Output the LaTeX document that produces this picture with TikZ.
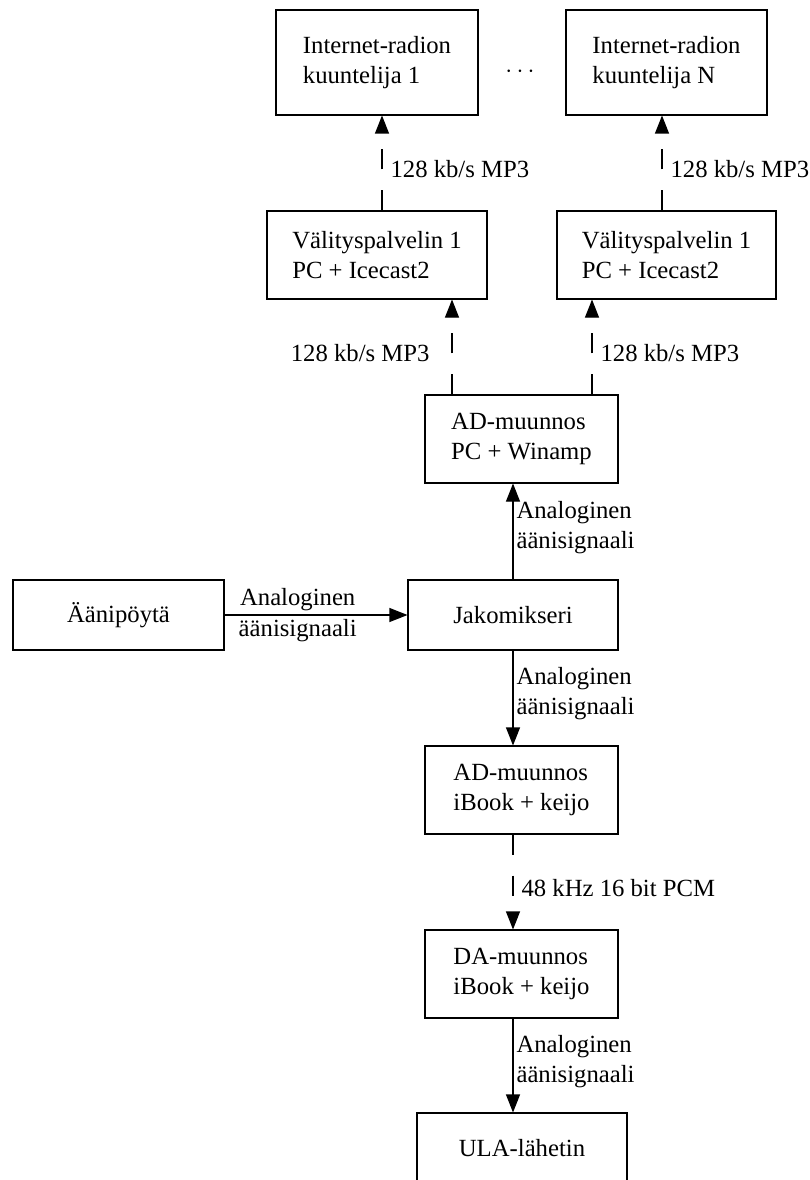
\documentclass[tikz,border=0pt]{standalone}
\usepackage{fontspec}
\setmainfont{Liberation Serif}
\usetikzlibrary{arrows.meta,positioning}

\tikzset{
  box/.style={draw, line width=1.1pt, align=left},
  flow/.style={line width=1.1pt, -{Triangle[length=18pt,width=14pt]}},
  stream/.style={flow, dash pattern=on 20pt off 21pt},
  signal/.style={align=left, inner xsep=3pt, yshift=4pt},
  rate/.style={inner xsep=8pt, yshift=-6pt}
}

\begin{document}
\begin{tikzpicture}[x=1pt, y=-1pt, font=\fontsize{24.7}{30}\selectfont]
  \useasboundingbox (0,0) rectangle (809,1180);

  % listeners
  \node[box, minimum width=202pt, minimum height=105pt] (inet1) at (377,62.5) {Internet-radion\\kuuntelija 1};
  \node[box, minimum width=201pt, minimum height=105pt] (inetN) at (666.5,62.5) {Internet-radion\\kuuntelija N};
  \node (dots) at (520,72) {$\cdots$};

  % relay servers
  \node[box, minimum width=220pt, minimum height=88pt] (relay1) at (377,255) {Välityspalvelin 1\\PC + Icecast2};
  \node[box, minimum width=219pt, minimum height=88pt] (relayN) at (666.5,255) {Välityspalvelin 1\\PC + Icecast2};

  % studio chain
  \node[box, minimum width=193pt, minimum height=88pt] (adpc) at (521.5,439) {AD-muunnos\\PC + Winamp};
  \node[box, minimum width=211pt, minimum height=70pt] (desk) at (118.5,615) {Äänipöytä};
  \node[box, minimum width=210pt, minimum height=70pt] (mixer) at (513,615) {Jakomikseri};
  \node[box, minimum width=193pt, minimum height=88pt] (adbook) at (521.5,790) {AD-muunnos\\iBook + keijo};
  \node[box, minimum width=193pt, minimum height=88pt] (dabook) at (521.5,974) {DA-muunnos\\iBook + keijo};
  \node[box, minimum width=210pt, minimum height=70pt] (ula) at (522,1148) {ULA-lähetin};

  \draw[flow] (desk) -- node[pos=.4, above]{Analoginen} node[pos=.4, below]{äänisignaali} (mixer);
  \draw[flow] (mixer) -- node[signal, right]{Analoginen\\äänisignaali} (mixer |- adpc.south);
  \draw[flow] (mixer) -- node[signal, right]{Analoginen\\äänisignaali} (mixer |- adbook.north);
  \draw[stream] ([xshift=-8.5pt]adbook.south) -- node[rate, right]{48 kHz 16 bit PCM} ([xshift=-8.5pt]adbook.south |- dabook.north);
  \draw[flow] ([xshift=-8.5pt]dabook.south) -- node[signal, right]{Analoginen\\äänisignaali} ([xshift=-8.5pt]dabook.south |- ula.north);

  % streams to the servers and listeners
  \draw[stream] ([xshift=-69.5pt]adpc.north) -- node[rate, left, xshift=-14pt]{128 kb/s MP3} ([xshift=-69.5pt]adpc.north |- relay1.south);
  \draw[stream] ([xshift=70.5pt]adpc.north) -- node[rate, right]{128 kb/s MP3} ([xshift=70.5pt]adpc.north |- relayN.south);
  \draw[stream] ([xshift=5pt]relay1.north) -- node[rate, right]{128 kb/s MP3} ([xshift=5pt]relay1.north |- inet1.south);
  \draw[stream] ([xshift=-4.5pt]relayN.north) -- node[rate, right]{128 kb/s MP3} ([xshift=-4.5pt]relayN.north |- inetN.south);
\end{tikzpicture}
\end{document}
